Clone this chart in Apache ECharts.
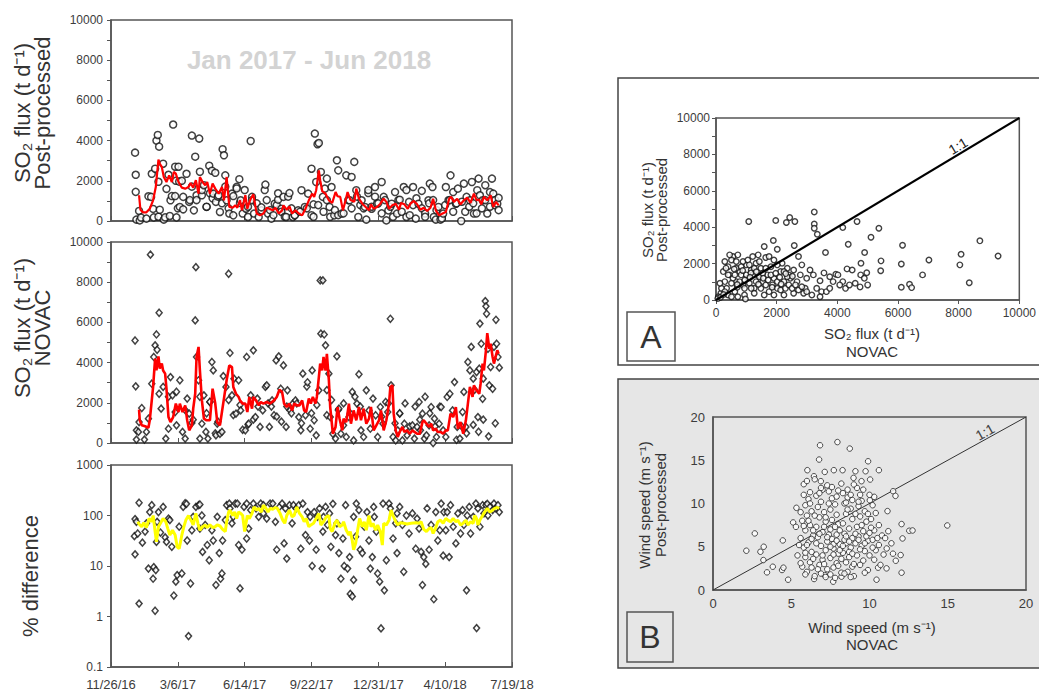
<!DOCTYPE html>
<html><head><meta charset="utf-8">
<script src="https://cdn.jsdelivr.net/npm/echarts@6/dist/echarts.min.js"></script>
<style>html,body{margin:0;padding:0;background:#fff}#c{width:1039px;height:693px}</style>
</head><body><div id="c"></div>
<script>
// x tick labels (every 100 days from 11/26/16)
const dateTicks = ['11/26/16','3/6/17','6/14/17','9/22/17','12/31/17','4/10/18','7/19/18'];
const fluxTicks = [0,2000,4000,6000,8000,10000];
const windTicks = [0,5,10,15,20];

// [day since 11/26/16, SO2 flux t/d] post-processed
const postProcessed = [[36,3400],[37,2300],[37,1450],[38,70],[42,500],[43,30],[45,170],[53,120],[56,1230],[60,1200],[61,2350],[63,600],[64,180],[66,2600],[68,4000],[70,4280],[71,1950],[71,214],[72,3700],[73,560],[78,2850],[79,70],[81,180],[83,1600],[86,2300],[88,250],[89,1030],[91,1240],[93,4800],[96,2700],[96,1240],[97,2000],[98,180],[100,630],[101,2700],[102,1960],[103,700],[106,2000],[108,1200],[108,580],[113,2350],[117,950],[118,1040],[121,4250],[121,1710],[124,530],[126,3200],[128,1280],[128,1040],[132,4100],[133,2450],[136,1280],[136,1540],[139,1780],[143,700],[143,710],[147,2750],[148,1380],[151,2500],[152,1130],[153,1360],[156,2400],[157,950],[160,1210],[161,1280],[163,450],[166,880],[167,3570],[169,3270],[171,2270],[171,1710],[173,1030],[176,630],[177,370],[181,1360],[183,280],[183,1240],[188,1700],[188,1620],[192,2080],[193,900],[194,1030],[197,370],[200,1540],[202,610],[205,200],[205,710],[209,3980],[211,1200],[211,1040],[214,370],[218,880],[221,200],[225,530],[225,680],[230,1540],[231,1810],[233,1040],[235,370],[238,540],[240,120],[243,290],[245,860],[248,790],[250,1060],[250,1380],[255,610],[255,460],[258,1200],[260,210],[262,200],[265,1210],[267,1390],[270,630],[272,200],[275,280],[275,290],[280,530],[283,460],[285,1530],[290,700],[293,630],[295,1360],[300,2600],[300,290],[303,830],[303,210],[305,4350],[307,1940],[309,3820],[310,790],[311,3880],[314,2440],[317,1200],[318,460],[320,1610],[323,2110],[323,1040],[327,700],[328,210],[330,1690],[334,280],[335,540],[338,3020],[340,2520],[340,290],[345,370],[348,380],[352,2270],[355,1040],[357,1030],[360,2190],[360,630],[364,2940],[367,1530],[368,1210],[370,200],[373,790],[375,1030],[378,630],[380,700],[382,70],[385,1390],[385,1540],[390,610],[390,710],[395,1690],[395,1210],[398,860],[400,880],[405,1940],[405,380],[408,1200],[410,1040],[412,30],[415,530],[418,710],[420,860],[422,210],[425,1440],[428,370],[430,1040],[432,1060],[435,460],[438,1690],[442,200],[442,1540],[446,950],[447,290],[452,1690],[452,790],[456,120],[457,1130],[460,860],[465,1500],[465,630],[470,370],[470,210],[475,1030],[476,880],[477,1860],[481,1690],[482,1040],[483,200],[486,70],[487,540],[490,700],[493,70],[495,130],[497,370],[500,790],[501,1690],[505,1030],[507,1040],[508,2270],[512,1440],[512,460],[516,860],[517,880],[519,1610],[524,0],[525,960],[528,1860],[530,460],[532,1200],[536,710],[537,1030],[540,1940],[542,880],[543,370],[547,380],[548,1530],[550,2110],[552,1280],[555,630],[556,1030],[560,1780],[560,1040],[563,370],[567,1440],[567,710],[570,2110],[572,1360],[575,780],[575,1040],[578,860],[580,1150],[580,540]];

const postAvg = [[42,1280],[44,560],[48,430],[53,430],[58,610],[63,1030],[67,1690],[71,3050],[73,2850],[76,2690],[79,2190],[83,1940],[87,2270],[91,1940],[94,2440],[97,2360],[101,1940],[106,1660],[111,1610],[116,1690],[119,1890],[123,1660],[127,2030],[131,1360],[133,2190],[137,1940],[141,1780],[144,1940],[148,1360],[152,1860],[156,1610],[161,1360],[166,1690],[169,1030],[173,2190],[177,700],[182,660],[186,780],[189,660],[193,1030],[196,530],[201,1280],[204,610],[208,1030],[213,1330],[218,370],[223,280],[228,370],[233,660],[237,610],[242,530],[246,660],[251,370],[256,530],[258,780],[263,560],[267,730],[271,370],[276,530],[281,370],[286,280],[291,610],[296,1030],[301,1360],[304,1200],[307,1530],[311,2520],[313,2030],[316,1490],[321,1360],[326,1030],[331,900],[336,1440],[339,1230],[343,1200],[347,530],[351,1030],[354,1440],[358,1060],[364,950],[367,1610],[371,1110],[376,860],[381,700],[386,530],[389,830],[393,610],[398,700],[403,860],[408,1110],[412,950],[416,610],[421,780],[426,860],[431,560],[434,900],[439,830],[444,610],[448,860],[453,1000],[458,830],[463,560],[468,660],[473,500],[478,660],[482,1110],[486,530],[491,280],[496,370],[501,450],[506,1110],[509,1200],[513,950],[518,1110],[523,830],[528,1030],[533,1160],[538,900],[543,1360],[547,1030],[551,1060],[554,830],[558,1200],[563,1030],[568,1280],[572,700],[576,950],[580,780]];

// [day, SO2 flux t/d] NOVAC
const novac = [[36,5100],[37,2820],[38,170],[38,630],[41,550],[42,1040],[46,1740],[50,170],[53,550],[56,1210],[59,9370],[61,2950],[64,4280],[66,4860],[68,5400],[69,4640],[72,6480],[72,2450],[75,1710],[78,2790],[82,220],[86,710],[86,2300],[89,3280],[92,2370],[96,1540],[98,880],[98,2550],[103,3120],[107,550],[111,220],[111,1640],[114,2210],[117,1460],[121,1000],[123,1160],[126,6100],[127,8750],[128,4280],[131,3120],[133,220],[133,2300],[136,960],[139,2370],[142,550],[143,1480],[145,220],[148,2040],[148,2050],[151,4030],[153,3610],[156,480],[157,380],[159,960],[160,1060],[163,460],[166,550],[168,3330],[172,2790],[176,8420],[176,2140],[178,4480],[181,2370],[183,1390],[184,3200],[187,1460],[191,3120],[193,1890],[194,1620],[197,660],[201,630],[203,4280],[205,915],[206,960],[209,2370],[213,4610],[213,1160],[216,1290],[219,2210],[220,1810],[223,800],[227,1620],[231,2790],[233,2870],[235,1970],[237,800],[240,1810],[241,2120],[244,1380],[247,4110],[248,1310],[251,4310],[254,2700],[255,1060],[258,3860],[262,800],[263,1810],[264,2620],[268,1620],[270,1480],[272,1960],[276,2120],[278,1970],[281,1290],[284,630],[285,980],[287,3450],[291,1380],[293,2810],[294,3020],[298,710],[300,1480],[301,3610],[304,1130],[307,380],[308,1890],[311,2620],[313,8090],[314,5440],[317,8090],[319,5400],[321,4860],[323,1380],[323,2630],[326,3450],[328,1290],[330,2140],[332,460],[336,220],[338,4310],[340,1640],[341,1710],[344,460],[348,880],[348,1970],[352,300],[356,1290],[358,1480],[361,2540],[363,130],[365,2300],[368,1960],[371,3420],[373,1810],[374,630],[378,300],[382,2620],[386,1620],[388,710],[392,2210],[396,1380],[399,300],[403,1790],[405,1310],[407,960],[411,2040],[414,1540],[415,1970],[418,6180],[419,2870],[422,300],[425,980],[426,130],[429,630],[432,1460],[432,1480],[436,130],[439,960],[440,1970],[443,380],[447,630],[447,820],[451,880],[454,220],[455,1810],[458,800],[461,2040],[462,1160],[463,630],[466,1460],[469,220],[470,2300],[472,380],[476,880],[477,1480],[479,1790],[482,0],[484,1210],[485,820],[487,300],[491,960],[492,1810],[494,1790],[497,630],[501,300],[503,2290],[507,2450],[511,1620],[514,3030],[517,160],[518,800],[522,220],[525,820],[526,1540],[528,2540],[531,800],[532,480],[534,4030],[537,3610],[539,4780],[542,3200],[542,900],[544,2650],[547,3530],[549,1290],[550,560],[551,3700],[552,5940],[554,4940],[556,2200],[557,3200],[557,1160],[560,7060],[561,6800],[562,6430],[564,4690],[565,330],[566,2870],[568,3780],[571,2700],[573,4780],[575,980],[576,6130],[577,4940],[579,4280],[581,3750]];

const novacAvg = [[42,1660],[43,1130],[46,880],[51,830],[56,760],[58,1130],[61,2120],[63,2790],[66,4200],[68,3610],[71,4310],[73,3700],[76,3950],[78,3610],[81,3450],[83,2700],[86,1290],[89,1040],[93,1290],[97,1960],[101,1540],[103,1960],[107,1540],[111,1870],[114,1130],[117,630],[121,880],[123,1710],[126,2450],[128,4280],[131,4780],[133,3610],[136,2120],[139,1210],[143,1130],[148,1130],[152,2700],[156,1960],[159,1040],[163,880],[166,1540],[169,2210],[173,3120],[177,3860],[181,3780],[183,2790],[187,2450],[191,2290],[193,2120],[197,1960],[201,1960],[204,1540],[207,2290],[211,1710],[213,2290],[217,2120],[221,1870],[224,2040],[228,1960],[233,2040],[238,1960],[244,2120],[248,2290],[252,2650],[256,2540],[259,1960],[263,1790],[267,1960],[271,1620],[274,1960],[278,1870],[282,1870],[286,2120],[289,1620],[292,1540],[296,2210],[299,1960],[302,2290],[306,1960],[308,2290],[311,3280],[313,3950],[316,3610],[318,4280],[321,3610],[323,4440],[326,3120],[328,1790],[332,460],[336,800],[339,1790],[342,1210],[346,630],[348,1210],[352,1040],[356,1960],[359,960],[363,1620],[367,1130],[371,1790],[374,1130],[378,1710],[382,960],[386,1210],[389,1790],[393,630],[397,880],[401,1130],[404,1620],[408,630],[412,1130],[416,1960],[418,2790],[421,2870],[423,1460],[426,630],[429,300],[432,550],[436,800],[439,550],[443,630],[447,460],[451,630],[454,550],[458,460],[462,460],[466,1040],[468,1130],[472,960],[476,800],[479,960],[482,630],[486,710],[489,550],[493,550],[497,460],[501,630],[504,630],[508,1460],[512,1290],[516,1790],[519,710],[523,1040],[527,460],[531,1130],[534,1960],[537,2790],[541,2290],[543,2870],[547,2620],[551,2450],[553,2950],[556,3950],[558,3610],[561,4610],[563,5470],[566,4690],[568,4940],[571,4280],[573,3950],[576,4360],[578,4610],[580,4440]];

// [day, % difference]
const pctDiff = [[35,39],[36,17],[36,85],[38,75],[40,44],[42,179],[42,1.8],[47,29],[51,48],[53,70],[56,8.9],[58,117],[61,160],[63,5.6],[64,9.5],[66,1.3],[67,8.3],[68,30],[69,75],[71,117],[74,46],[78,148],[81,37],[83,30],[86,87],[88,81],[91,24],[94,2.6],[97,4.9],[99,6.6],[102,60],[106,7.1],[108,148],[111,175],[113,170],[114,32],[116,0.41],[119,4.5],[121,51],[123,94],[127,148],[131,160],[133,55],[133,165],[136,100],[137,19],[141,65],[144,26],[147,13],[151,51],[153,32],[157,4.2],[159,94],[162,18],[164,5.6],[166,7.1],[167,32],[171,81],[173,160],[177,172],[178,138],[181,70],[183,94],[186,172],[189,172],[191,26],[193,3.6],[196,21],[199,148],[203,35],[203,172],[206,55],[209,128],[213,172],[217,138],[221,94],[224,172],[228,110],[228,160],[233,87],[238,172],[242,172],[246,75],[248,21],[252,148],[256,172],[259,28],[261,138],[263,14],[267,160],[271,70],[273,160],[277,138],[281,160],[284,22],[287,172],[291,41],[294,117],[297,32],[298,94],[301,10],[304,117],[307,21],[309,94],[312,138],[316,8.9],[317,48],[318,94],[321,148],[324,65],[327,110],[329,24],[332,170],[336,41],[338,70],[341,18],[344,5.6],[347,35],[349,10],[351,160],[354,8.9],[357,15],[358,2.8],[361,2.5],[363,5.3],[363,94],[366,38],[367,172],[371,128],[373,21],[376,18],[379,60],[383,117],[386,32],[388,8.9],[391,15],[393,148],[394,94],[397,48],[399,7.1],[402,4.9],[404,0.58],[407,172],[409,3.3],[412,13],[416,172],[418,138],[422,35],[426,70],[428,18],[428,110],[432,148],[436,65],[438,7.7],[442,100],[446,44],[451,110],[456,22],[458,87],[461,55],[464,19],[466,4.2],[468,15],[471,11],[473,138],[476,21],[479,65],[483,2.2],[486,117],[489,32],[492,51],[494,172],[497,16],[498,117],[501,51],[503,117],[506,15],[508,160],[512,60],[516,28],[519,110],[523,44],[526,128],[528,65],[532,3.3],[533,100],[536,148],[538,44],[542,94],[546,172],[547,0.59],[549,138],[552,60],[556,160],[558,110],[561,160],[563,170],[564,100],[567,148],[571,128],[573,172],[576,138],[579,160],[581,117]];

const pctAvg = [[40,75],[42,68],[46,60],[49,72],[53,58],[57,87],[61,75],[63,100],[66,48],[68,30],[71,60],[74,70],[78,87],[82,75],[85,55],[88,41],[92,51],[96,41],[99,24],[102,22],[106,41],[109,60],[112,81],[116,100],[118,87],[121,75],[123,65],[127,110],[130,70],[133,51],[137,60],[141,65],[144,58],[148,65],[152,58],[156,60],[159,65],[163,62],[167,53],[171,48],[173,75],[176,117],[178,128],[182,100],[185,117],[188,87],[191,117],[194,110],[197,100],[200,48],[202,70],[204,100],[207,87],[211,110],[214,148],[218,128],[221,138],[225,117],[228,160],[232,138],[235,117],[238,138],[242,133],[246,144],[249,138],[253,110],[257,81],[260,70],[263,100],[267,128],[271,94],[274,100],[278,148],[282,110],[286,94],[289,75],[292,87],[296,60],[299,65],[303,70],[307,87],[311,110],[314,65],[318,75],[322,94],[326,100],[328,55],[331,48],[335,70],[338,81],[342,60],[346,65],[348,75],[352,51],[356,41],[358,48],[361,32],[363,21],[366,28],[369,51],[372,87],[376,60],[379,75],[382,51],[386,100],[389,60],[392,70],[396,51],[399,65],[403,48],[406,26],[408,70],[412,65],[416,81],[419,128],[422,100],[426,75],[429,65],[433,72],[438,70],[443,68],[449,70],[456,72],[461,70],[464,75],[468,53],[472,48],[476,55],[479,58],[482,44],[486,58],[489,75],[493,81],[497,70],[501,87],[504,81],[508,75],[512,87],[516,75],[519,81],[523,65],[527,70],[531,81],[534,65],[538,75],[542,70],[544,100],[547,87],[549,65],[552,81],[556,100],[559,117],[563,138],[567,117],[571,128],[574,138],[578,144],[581,138]];

// Panel A: [NOVAC, post-processed] SO2 flux
const scatterA = [[1080,4310],[1970,4370],[3240,4840],[3240,4170],[3240,3940],[3340,3610],[2430,4530],[2320,4260],[2600,4310],[1890,3270],[2580,2990],[1590,2940],[2020,2790],[1390,2480],[1640,2330],[4180,3980],[4650,4310],[4360,3060],[5370,3940],[5110,3450],[6150,3010],[3610,2610],[4900,2610],[4780,2020],[5440,2150],[6110,1980],[7020,2200],[8700,3250],[8080,2510],[8040,1930],[9300,2420],[8350,950],[6810,1380],[6110,700],[6380,860],[6450,680],[5430,1610],[4970,1500],[4770,1380],[4890,1190],[4750,720],[5000,830],[4320,1710],[4490,1650],[4180,1010],[4270,640],[4590,920],[3950,1410],[3750,1280],[3560,1490],[3430,1060],[3480,460],[3640,460],[3210,1380],[2990,1190],[3100,1650],[2940,640],[2720,2390],[2830,1930],[2560,1650],[2400,1380],[2240,1010],[2130,1560],[2020,640],[1910,1190],[1810,1830],[1700,1380],[1540,1010],[1480,1740],[1370,1380],[1260,640],[1160,1650],[1050,1190],[1000,1930],[890,830],[780,1560],[670,1010],[560,2390],[450,1380],[350,640],[240,1560],[160,370],[80,180],[400,280],[620,460],[940,280],[970,60],[1260,370],[1590,280],[1910,280],[2240,280],[2560,370],[2890,370],[290,2110],[510,2200],[720,2480],[450,2480],[890,2110],[1050,2200],[1210,2390],[1320,2020],[1430,2110],[1750,2390],[1910,2200],[2180,2020],[2350,1740],[2450,1190],[2670,1010],[2780,1380],[2990,460],[3160,280],[3320,640],[3430,180],[3750,640],[3860,1010],[4020,1380],[4080,830],[4400,830],[290,1010],[400,1380],[560,1190],[670,1740],[830,1380],[940,640],[1100,920],[1160,640],[1320,1010],[1480,640],[1640,830],[1750,460],[1860,830],[2020,1010],[2130,550],[2290,640],[2400,830],[2510,640],[2620,830],[2720,550],[2830,730],[180,640],[130,920],[290,460],[510,180],[720,180],[510,920],[620,1380],[780,1010],[1000,1380],[1210,1380],[1430,1280],[1540,1470],[1640,1740],[1810,1380],[1970,1470],[2020,1930],[2240,1560],[2350,1280],[1260,1740],[1100,1930],[830,1830],[670,2110],[400,1830],[330,1750],[600,1700],[880,1620],[1150,1480],[1330,1550],[1560,1200],[1720,1100],[2100,1250],[2300,1450],[2520,1300],[700,700],[950,1100],[1400,860],[1850,700],[2150,880],[60,80],[150,150],[250,300],[700,850],[1120,1250]];

// Panel B: [NOVAC, post-processed] wind speed m/s
const scatterB = [[2.13,4.54],[2.67,6.54],[3.03,4.42],[3.24,5.0],[3.22,3.46],[3.45,2.04],[3.82,2.69],[4.46,5.73],[4.41,2.31],[4.5,2.58],[4.8,1.19],[5.12,7.81],[5.33,9.5],[14.97,7.46],[6.84,16.73],[7.95,17.1],[8.74,16.35],[6.78,15.08],[9.91,14.88],[6.03,13.85],[7.14,13.65],[7.72,13.85],[8.28,13.85],[9.1,13.73],[9.75,13.73],[10.6,13.85],[9.49,12.58],[10.04,12.77],[5.8,12.23],[6.45,13.15],[6.89,12.58],[8.98,12.96],[11.51,11.42],[11.66,10.88],[10.3,10.77],[10.02,10.38],[12.54,6.85],[12.75,6.88],[12.05,7.62],[12.11,5.96],[11.99,4.04],[12.05,2.0],[11.68,3.38],[11.09,2.5],[10.45,1.19],[10.55,2.58],[11.15,9.12],[7.68,0.96],[6.46,1.27],[7.14,1.73],[8.21,1.54],[5.8,11.0],[6.1,10.5],[5.9,9.8],[6.3,9.1],[6.0,8.6],[5.7,8.0],[6.2,7.5],[5.9,6.9],[6.4,6.3],[5.6,6.0],[6.1,5.5],[5.8,4.9],[6.3,4.4],[5.9,3.8],[6.2,3.2],[5.7,2.7],[6.0,2.1],[6.5,1.6],[6.6,10.9],[6.9,10.2],[6.7,9.6],[7.1,9.0],[6.8,8.4],[7.2,7.9],[6.6,7.3],[7.0,6.7],[6.7,6.1],[7.3,5.6],[6.9,5.1],[7.2,4.6],[6.6,4.1],[7.0,3.5],[6.8,2.9],[7.3,2.4],[6.9,1.9],[7.4,11.4],[7.6,10.6],[7.8,9.9],[7.5,9.3],[7.9,8.7],[7.6,8.1],[8.0,7.6],[7.5,7.0],[7.9,6.4],[7.6,5.9],[8.1,5.3],[7.7,4.8],[8.0,4.2],[7.5,3.7],[7.9,3.1],[7.7,2.6],[8.2,2.0],[7.8,1.4],[8.3,11.2],[8.6,10.7],[8.4,10.0],[8.8,9.4],[8.5,8.8],[8.9,8.2],[8.3,7.7],[8.7,7.1],[8.4,6.5],[8.9,6.0],[8.5,5.4],[8.8,4.9],[8.3,4.3],[8.7,3.8],[8.5,3.2],[8.9,2.7],[8.6,2.1],[9.0,1.6],[9.2,11.8],[9.5,10.3],[9.3,9.7],[9.7,9.1],[9.4,8.5],[9.8,7.9],[9.2,7.3],[9.6,6.8],[9.3,6.2],[9.9,5.7],[9.5,5.1],[9.7,4.5],[9.2,4.0],[9.6,3.4],[9.4,2.9],[9.9,2.3],[10.2,9.8],[10.4,8.9],[10.1,8.2],[10.6,7.5],[10.3,6.9],[10.8,6.3],[10.2,5.8],[10.6,5.2],[10.4,4.6],[10.9,4.1],[10.3,3.5],[10.7,2.9],[11.2,6.8],[11.0,6.0],[11.4,5.4],[11.1,4.8],[11.5,4.2],[5.5,5.2],[5.4,4.0],[5.6,3.1],[5.3,7.3],[6.0,12.6],[6.5,12.8],[7.0,11.6],[7.3,12.1],[8.0,11.5],[8.2,12.3],[8.8,11.0],[9.0,12.2],[9.6,11.6],[10.0,11.0],[6.3,5.9],[6.4,6.9],[6.1,8.0],[6.2,10.0],[6.5,8.6],[7.0,4.0],[7.1,3.0],[7.4,6.4],[7.2,8.4],[7.7,5.3],[7.8,7.3],[8.1,6.9],[8.2,3.6],[8.0,2.8],[8.6,9.3],[8.4,5.8],[8.7,4.4],[8.9,10.4],[9.1,5.4],[9.0,3.0],[9.4,4.7],[9.8,6.2],[9.1,8.8],[10.0,4.0],[10.5,6.0],[10.1,7.2],[6.7,2.4],[7.5,1.8],[8.4,1.9],[8.8,1.5],[9.7,2.0],[6.3,2.6],[5.9,1.8],[7.2,1.5],[7.9,10.8],[8.5,10.1],[7.4,10.0],[6.9,11.8],[9.3,10.2],[9.9,8.8],[5.6,9.0],[5.8,7.4],[6.0,5.2],[5.9,4.3],[6.4,3.6],[6.6,5.4],[6.8,6.5],[7.1,7.3],[7.3,6.1],[7.5,5.0],[7.7,4.1],[7.9,5.7],[8.1,4.6],[8.3,5.1],[8.5,6.2],[8.7,5.6],[8.9,4.2],[9.1,6.5],[9.3,5.8],[9.5,7.5],[9.7,5.4],[10.0,6.6],[10.2,4.9],[6.2,11.3],[6.8,11.2],[7.6,11.9],[8.6,11.6],[9.4,11.0]];

const oneToOneA = [[0,0],[10000,10000]];
const oneToOneB = [[0,0],[20,20]];

const FONT = '"Liberation Sans", Arial, Helvetica, sans-serif';
const AX = '#555';
const TICK = '#3c3c3c';

function timeX(gi, show){
  return {type:'value', gridIndex:gi, min:0, max:600, interval:100,
    axisLine:{show:true, onZero:false, lineStyle:{color:AX, width:1.5}},
    axisTick:{show:true, inside:true, length:5, lineStyle:{color:AX}},
    axisLabel:{show:show, color:TICK, fontSize:13, fontFamily:FONT, margin:11,
      formatter:v => dateTicks[Math.round(v/100)]},
    splitLine:{show:false}};
}
function fluxY(gi, fs, margin){
  return {type:'value', gridIndex:gi, min:0, max:10000, interval:2000,
    axisLine:{show:true, onZero:false, lineStyle:{color:AX, width:1.5}},
    axisTick:{show:true, length:4, lineStyle:{color:AX}},
    minorTick:{show:true, splitNumber:2, length:4, lineStyle:{color:AX}},
    axisLabel:{color:TICK, fontSize:fs, fontFamily:FONT, margin:margin,
      formatter:v => String(fluxTicks[Math.round(v/2000)])},
    splitLine:{show:false}};
}
const frame = {show:true, borderColor:AX, borderWidth:1.5, backgroundColor:'transparent'};

const circleStyle = {color:'#fff', borderColor:'#111', borderWidth:1.5};
const diamondStyle = {color:'#fff', borderColor:'#111', borderWidth:1.5};

const chart = echarts.init(document.getElementById('c'), null, {renderer:'svg', width:1039, height:693});
chart.setOption({
  animation:false,
  backgroundColor:'#fff',
  grid:[
    Object.assign({left:111, top:20, width:401, height:201}, frame),
    Object.assign({left:111, top:242, width:401, height:201}, frame),
    Object.assign({left:111, top:465, width:401, height:202}, frame),
    Object.assign({left:716, top:118, width:308, height:182}, frame),
    Object.assign({left:713, top:417, width:313, height:173}, frame, {backgroundColor:'#e6e6e6'})
  ],
  xAxis:[
    timeX(0,false), timeX(1,false), timeX(2,true),
    {type:'value', gridIndex:3, min:0, max:10000, interval:2000,
      axisLine:{show:true, onZero:false, lineStyle:{color:AX, width:1.5}},
      axisTick:{show:true, length:4, lineStyle:{color:AX}},
      axisLabel:{color:TICK, fontSize:12, fontFamily:FONT, margin:7,
        formatter:v => String(fluxTicks[Math.round(v/2000)])},
      splitLine:{show:false}},
    {type:'value', gridIndex:4, min:0, max:20, interval:5,
      axisLine:{show:true, onZero:false, lineStyle:{color:AX, width:1.5}},
      axisTick:{show:false},
      axisLabel:{color:TICK, fontSize:13, fontFamily:FONT, margin:7,
        formatter:v => String(windTicks[Math.round(v/5)])},
      splitLine:{show:false}}
  ],
  yAxis:[
    fluxY(0,12,8), fluxY(1,12,8),
    {type:'log', gridIndex:2, logBase:10, min:0.1, max:1000,
      axisLine:{show:true, onZero:false, lineStyle:{color:AX, width:1.5}},
      axisTick:{show:true, length:4, lineStyle:{color:AX}},
      axisLabel:{color:TICK, fontSize:12, fontFamily:FONT, margin:8,
        formatter:v => String(+(+v).toPrecision(3))},
      splitLine:{show:false}},
    fluxY(3,12,6),
    {type:'value', gridIndex:4, min:0, max:20, interval:5,
      axisLine:{show:true, onZero:false, lineStyle:{color:AX, width:1.5}},
      axisTick:{show:false},
      axisLabel:{color:TICK, fontSize:13, fontFamily:FONT, margin:8,
        formatter:v => String(windTicks[Math.round(v/5)])},
      splitLine:{show:false}}
  ],
  series:[
    {type:'scatter', xAxisIndex:0, yAxisIndex:0, data:postProcessed, symbol:'circle', symbolSize:7, itemStyle:circleStyle, z:2},
    {type:'line', xAxisIndex:0, yAxisIndex:0, data:postAvg, showSymbol:false, lineStyle:{color:'#ff0000', width:2.2}, z:3},
    {type:'scatter', xAxisIndex:1, yAxisIndex:1, data:novac, symbol:'diamond', symbolSize:[6,7], itemStyle:diamondStyle, z:2},
    {type:'line', xAxisIndex:1, yAxisIndex:1, data:novacAvg, showSymbol:false, lineStyle:{color:'#ff0000', width:2.6}, z:3},
    {type:'scatter', xAxisIndex:2, yAxisIndex:2, data:pctDiff, symbol:'diamond', symbolSize:[6,7], itemStyle:diamondStyle, z:2},
    {type:'line', xAxisIndex:2, yAxisIndex:2, data:pctAvg, showSymbol:false, lineStyle:{color:'#ffff00', width:3}, z:3},
    {type:'scatter', xAxisIndex:3, yAxisIndex:3, data:scatterA, symbol:'circle', symbolSize:5.5, itemStyle:{color:'#fff', borderColor:'#111', borderWidth:1.4}, z:2},
    {type:'line', xAxisIndex:3, yAxisIndex:3, data:oneToOneA, showSymbol:false, lineStyle:{color:'#000', width:2.2}, z:3},
    {type:'line', xAxisIndex:4, yAxisIndex:4, data:oneToOneB, showSymbol:false, lineStyle:{color:'#333', width:1}, z:1},
    {type:'scatter', xAxisIndex:4, yAxisIndex:4, data:scatterB, symbol:'circle', symbolSize:5.5, itemStyle:{color:'#fff', borderColor:'#222', borderWidth:1}, z:2}
  ],
  graphic:{elements:[
    {type:'rect', z:-10, shape:{x:618, y:78, width:440, height:287}, style:{fill:'#fff', stroke:'#444', lineWidth:1.5}},
    {type:'rect', z:-10, shape:{x:618, y:379, width:440, height:289}, style:{fill:'#e6e6e6', stroke:'#444', lineWidth:1.5}},
    {type:'rect', z:5, shape:{x:627, y:312, width:48, height:49}, style:{fill:'#fff', stroke:'#555', lineWidth:1.5}},
    {type:'text', z:6, x:651, y:337, style:{text:'A', font:'32px '+FONT, fill:'#333', textAlign:'center', textVerticalAlign:'middle'}},
    {type:'rect', z:5, shape:{x:627, y:612, width:46, height:50}, style:{fill:'#e6e6e6', stroke:'#555', lineWidth:1.5}},
    {type:'text', z:6, x:650, y:637, style:{text:'B', font:'32px '+FONT, fill:'#333', textAlign:'center', textVerticalAlign:'middle'}},
    {type:'text', z:6, x:309, y:60, style:{text:'Jan 2017 - Jun 2018', font:'bold 26px '+FONT, fill:'#d3d3d3', textAlign:'center', textVerticalAlign:'middle'}},
    {type:'text', z:6, x:32, y:113, rotation:Math.PI/2, style:{text:'SO₂ flux (t d⁻¹)\nPost-processed', font:'22px '+FONT, lineHeight:20, fill:'#333', textAlign:'center', textVerticalAlign:'middle'}},
    {type:'text', z:6, x:32, y:328, rotation:Math.PI/2, style:{text:'SO₂ flux (t d⁻¹)\nNOVAC', font:'22px '+FONT, lineHeight:20, fill:'#333', textAlign:'center', textVerticalAlign:'middle'}},
    {type:'text', z:6, x:30, y:576, rotation:Math.PI/2, style:{text:'% difference', font:'22px '+FONT, fill:'#333', textAlign:'center', textVerticalAlign:'middle'}},
    {type:'text', z:6, x:654, y:210, rotation:Math.PI/2, style:{text:'SO₂ flux (t d⁻¹)\nPost-processed', font:'15px '+FONT, lineHeight:14, fill:'#333', textAlign:'center', textVerticalAlign:'middle'}},
    {type:'text', z:6, x:872, y:342, style:{text:'SO₂ flux (t d⁻¹)\nNOVAC', font:'15px '+FONT, lineHeight:18, fill:'#333', textAlign:'center', textVerticalAlign:'middle'}},
    {type:'text', z:6, x:652, y:505, rotation:Math.PI/2, style:{text:'Wind speed (m s⁻¹)\nPost-processed', font:'15px '+FONT, lineHeight:16, fill:'#333', textAlign:'center', textVerticalAlign:'middle'}},
    {type:'text', z:6, x:872, y:636, style:{text:'Wind speed (m s⁻¹)\nNOVAC', font:'15px '+FONT, lineHeight:17, fill:'#333', textAlign:'center', textVerticalAlign:'middle'}},
    {type:'text', z:6, x:958, y:146, rotation:31*Math.PI/180, style:{text:'1:1', font:'14px '+FONT, fill:'#222', textAlign:'center', textVerticalAlign:'middle'}},
    {type:'text', z:6, x:985, y:432, rotation:29*Math.PI/180, style:{text:'1:1', font:'14px '+FONT, fill:'#444', textAlign:'center', textVerticalAlign:'middle'}}
  ]}
});
</script></body></html>
